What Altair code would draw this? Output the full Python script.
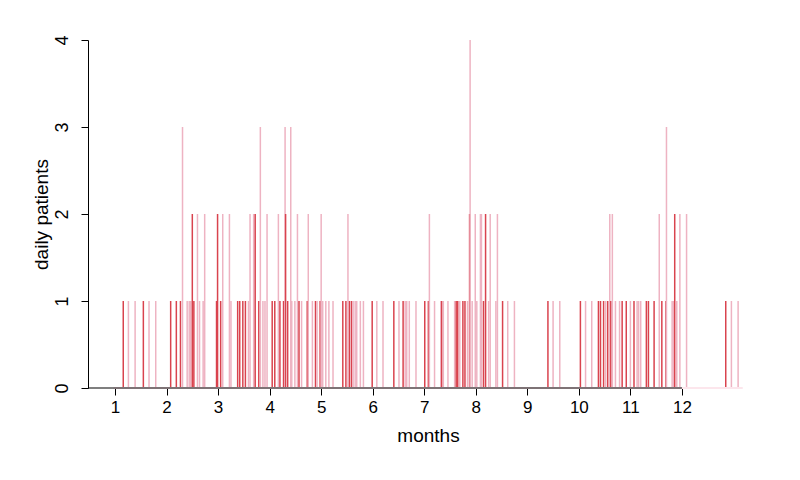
import altair as alt
import pandas as pd

# Month position of each day with patients, number of patients, and colour group
months = [
    1.16, 1.26, 1.39, 1.55, 1.66, 1.79,
    2.08, 2.19, 2.27, 2.31, 2.40, 2.44, 2.47, 2.50, 2.53, 2.60, 2.64, 2.71, 2.74,
    2.97, 2.99, 3.05, 3.09, 3.22, 3.25, 3.38, 3.42, 3.48, 3.53, 3.59, 3.62, 3.69,
    3.72, 3.79, 3.82, 3.87, 3.91, 3.95,
    4.05, 4.10, 4.17, 4.20, 4.27, 4.30, 4.31, 4.35, 4.41, 4.43, 4.49, 4.54, 4.57,
    4.62, 4.73, 4.75, 4.83, 4.89, 4.92, 4.98, 5.00,
    5.03, 5.09, 5.15, 5.23, 5.42, 5.48, 5.52, 5.55, 5.59, 5.62, 5.66, 5.69, 5.76,
    5.82, 5.99,
    6.08, 6.20, 6.41, 6.51, 6.59, 6.63, 6.66, 6.71, 6.84, 7.01,
    7.08, 7.10, 7.20, 7.32, 7.34, 7.37, 7.46, 7.59, 7.62, 7.65, 7.69, 7.75, 7.79,
    7.84, 7.88, 7.89, 7.93, 7.99, 8.02, 8.09,
    8.11, 8.15, 8.19, 8.25, 8.28, 8.39, 8.42, 8.52, 8.62, 8.75,
    9.40, 9.50, 9.63, 10.03, 10.13,
    10.25, 10.38, 10.42, 10.48, 10.52, 10.56, 10.60, 10.62, 10.65, 10.71, 10.79,
    10.84, 10.92, 11.00, 11.07, 11.13, 11.16,
    11.20, 11.31, 11.35, 11.46, 11.56, 11.61, 11.69, 11.70, 11.81, 11.84, 11.86,
    11.90, 11.96, 12.09,
    12.85, 12.96, 13.09,
]
patients = [
    1, 1, 1, 1, 1, 1,
    1, 1, 1, 3, 1, 1, 1, 2, 1, 2, 1, 1, 2,
    1, 2, 1, 2, 2, 1, 1, 1, 1, 1, 1, 2, 2,
    2, 1, 3, 1, 1, 2,
    1, 1, 2, 1, 1, 3, 2, 1, 3, 1, 1, 2, 1,
    1, 1, 2, 1, 1, 1, 1, 2,
    1, 1, 1, 1, 1, 1, 2, 1, 1, 1, 1, 1, 1,
    1, 1,
    1, 1, 1, 1, 1, 1, 1, 1, 1, 1,
    1, 2, 1, 1, 1, 1, 1, 1, 1, 1, 1, 1, 1,
    1, 2, 4, 1, 2, 1, 2,
    2, 1, 2, 1, 2, 1, 2, 1, 1, 1,
    1, 1, 1, 1, 1,
    1, 1, 1, 1, 1, 1, 2, 1, 2, 1, 1,
    1, 1, 1, 1, 1, 1,
    1, 1, 1, 1, 2, 1, 1, 3, 1, 1, 2,
    1, 2, 2,
    1, 1, 1,
]
group = [
    "r", "p", "p", "r", "p", "p",
    "r", "r", "r", "p", "p", "p", "p", "r", "r", "p", "p", "p", "p",
    "r", "r", "r", "p", "p", "p", "r", "r", "r", "r", "p", "p", "p",
    "r", "r", "p", "p", "p", "p",
    "r", "r", "p", "r", "r", "p", "r", "r", "p", "p", "p", "p", "r",
    "p", "r", "p", "p", "r", "p", "r", "p",
    "p", "p", "p", "p", "r", "r", "p", "r", "r", "p", "p", "p", "p",
    "p", "r",
    "p", "p", "r", "p", "r", "p", "p", "p", "p", "r",
    "r", "p", "p", "p", "r", "p", "p", "p", "r", "r", "p", "r", "r",
    "p", "r", "p", "p", "p", "p", "p",
    "p", "r", "r", "p", "p", "p", "p", "r", "p", "p",
    "r", "p", "p", "r", "p",
    "p", "r", "r", "r", "p", "r", "p", "r", "p", "p", "p",
    "r", "r", "p", "r", "p", "p",
    "p", "r", "r", "r", "p", "r", "r", "p", "p", "p", "r",
    "p", "p", "p",
    "r", "p", "p",
]

tick_months = list(range(1, 13))
y_ticks = [0, 1, 2, 3, 4]
x_domain = [0.476, 13.67]      # plotting range of the month axis
first_day, last_day = 0.97, 13.18  # span of the recorded days (zero days form the faint base)

df = pd.DataFrame({"month": months, "patients": patients, "group": group})
df["base"] = 0

red = "#D9434E"
pink = "#EEB3C2"
font = "Liberation Sans"

xscale = alt.Scale(domain=x_domain, nice=False, zero=False)
yscale = alt.Scale(domain=[0, 4], nice=False)

bars = alt.Chart(df).mark_rule(strokeWidth=1.5).encode(
    x=alt.X("month:Q", scale=xscale,
            axis=alt.Axis(values=tick_months, title="months", domain=False,
                          format="d",
                          tickSize=7, tickColor="black", tickWidth=1,
                          labelPadding=4, labelFontSize=17, labelFont=font,
                          labelColor="black", titleFont=font, titleFontSize=19,
                          titleFontWeight="normal", titleColor="black",
                          titlePadding=11, grid=False)),
    y=alt.Y("patients:Q", scale=yscale,
            axis=alt.Axis(values=y_ticks, title="daily patients", format="d",
                          domainColor="black", domainWidth=1,
                          tickSize=7, tickColor="black", tickWidth=1,
                          labelAngle=270, labelAlign="center",
                          labelBaseline="bottom", labelPadding=10,
                          labelFontSize=18, labelFont=font, labelColor="black",
                          titleFont=font, titleFontSize=19,
                          titleFontWeight="normal", titleColor="black",
                          titlePadding=2, grid=False)),
    y2="base:Q",
    color=alt.Color("group:N",
                    scale=alt.Scale(domain=["r", "p"], range=[red, pink]),
                    legend=None),
)

base_df = pd.DataFrame({"x1": [first_day], "x2": [last_day], "y": [0]})
faint = alt.Chart(base_df).mark_rule(color="#FCE6EC", strokeWidth=2).encode(
    x=alt.X("x1:Q", scale=xscale), x2="x2:Q", y=alt.Y("y:Q", scale=yscale)
)

axis_df = pd.DataFrame({"x1": [x_domain[0]], "x2": [tick_months[-1]], "y": [0]})
axis_line = alt.Chart(axis_df).mark_rule(color="black", strokeWidth=1.2).encode(
    x=alt.X("x1:Q", scale=xscale), x2="x2:Q", y=alt.Y("y:Q", scale=yscale)
)

chart = alt.layer(bars, faint, axis_line).properties(
    width=680, height=348,
    background="white",
    autosize=alt.AutoSizeParams(type="none"),
    padding={"left": 80, "top": 32, "right": 12, "bottom": 70},
).configure_view(strokeWidth=0)

chart.save("out.html", embed_options={"renderer": "svg", "actions": False})
